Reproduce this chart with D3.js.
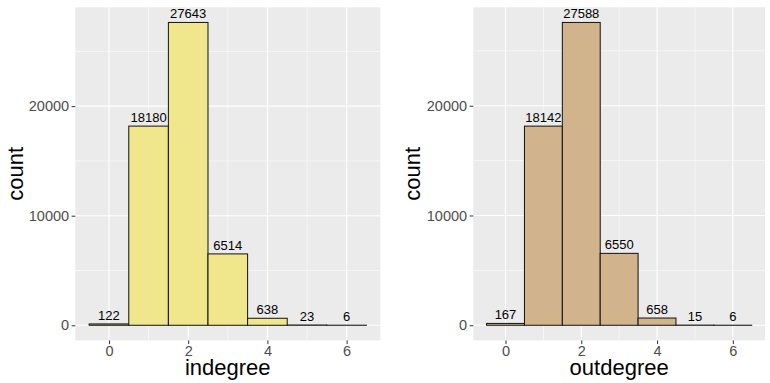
<!DOCTYPE html>
<html>
<head>
<meta charset="utf-8">
<script src="https://cdn.jsdelivr.net/npm/d3@7"></script>
<style>
  body { margin: 0; background: #fff; }
  svg { display: block; font-family: "Liberation Sans", Arial, sans-serif; }
</style>
</head>
<body>
<svg id="chart" width="770" height="383"></svg>
<script>
// degree values (bins) shared by both histograms
const degrees = [0, 1, 2, 3, 4, 5, 6];
const indegreeCounts = [122, 18180, 27643, 6514, 638, 23, 6];
const outdegreeCounts = [167, 18142, 27588, 6550, 658, 15, 6];
const yTicks = [0, 10000, 20000];
const xTicks = [0, 2, 4, 6];

const svg = d3.select('#chart');

const drawPanel = function (opts)
{
  const { left, right, top, bottom, counts, fill, title, axisX } = opts;
  const data = degrees.map((d, i) => ({ degree: d, count: counts[i] }));

  // ggplot style 5% expansion
  const xLo = d3.min(degrees) - 0.5, xHi = d3.max(degrees) + 0.5;
  const xPad = (xHi - xLo) * 0.05;
  const yMax = d3.max(counts);
  const x = d3.scaleLinear().domain([xLo - xPad, xHi + xPad]).range([left, right]);
  const y = d3.scaleLinear().domain([-yMax * 0.05, yMax * 1.05]).range([bottom, top]);

  const g = svg.append('g');

  g.append('rect')
    .attr('x', left).attr('y', top)
    .attr('width', right - left).attr('height', bottom - top)
    .attr('fill', '#EBEBEB');

  // minor grid
  const yMinor = d3.range(5000, yMax * 1.05, 10000);
  const xMinor = [1, 3, 5];
  g.selectAll('.ymin').data(yMinor).join('line')
    .attr('x1', left).attr('x2', right)
    .attr('y1', d => y(d)).attr('y2', d => y(d))
    .attr('stroke', '#fff').attr('stroke-width', 0.55);
  g.selectAll('.xmin').data(xMinor).join('line')
    .attr('y1', top).attr('y2', bottom)
    .attr('x1', d => x(d)).attr('x2', d => x(d))
    .attr('stroke', '#fff').attr('stroke-width', 0.55);

  // major grid
  g.selectAll('.ymaj').data(yTicks).join('line')
    .attr('x1', left).attr('x2', right)
    .attr('y1', d => y(d)).attr('y2', d => y(d))
    .attr('stroke', '#fff').attr('stroke-width', 1.1);
  g.selectAll('.xmaj').data(xTicks).join('line')
    .attr('y1', top).attr('y2', bottom)
    .attr('x1', d => x(d)).attr('x2', d => x(d))
    .attr('stroke', '#fff').attr('stroke-width', 1.1);

  // bars
  g.selectAll('.bar').data(data).join('rect')
    .attr('x', d => x(d.degree - 0.5))
    .attr('width', d => x(d.degree + 0.5) - x(d.degree - 0.5))
    .attr('y', d => y(d.count))
    .attr('height', d => y(0) - y(d.count))
    .attr('fill', fill)
    .attr('stroke', '#111')
    .attr('stroke-width', 1);

  // bar labels
  g.selectAll('.lab').data(data).join('text')
    .attr('x', d => x(d.degree))
    .attr('y', d => y(d.count) - 4)
    .attr('text-anchor', 'middle')
    .attr('font-size', 13)
    .attr('fill', '#000')
    .text(d => d.count);

  // y axis
  const yAxis = d3.axisLeft(y).tickValues(yTicks).tickSize(3.7).tickPadding(2.5).tickFormat(d3.format('d'));
  const ya = g.append('g').attr('transform', `translate(${left},0)`).call(yAxis);
  ya.select('.domain').remove();
  ya.selectAll('line').attr('stroke', '#333');
  ya.selectAll('text').attr('fill', '#4D4D4D').attr('font-size', 14.5)
    .attr('font-family', '"Liberation Sans", Arial, sans-serif');

  // x axis
  const xAxis = d3.axisBottom(x).tickValues(xTicks).tickSize(3.7).tickPadding(1.5);
  const xa = g.append('g').attr('transform', `translate(0,${bottom})`).call(xAxis);
  xa.select('.domain').remove();
  xa.selectAll('line').attr('stroke', '#333');
  xa.selectAll('text').attr('fill', '#4D4D4D').attr('font-size', 14.5)
    .attr('font-family', '"Liberation Sans", Arial, sans-serif');

  // titles
  g.append('text')
    .attr('x', (left + right) / 2).attr('y', 375)
    .attr('text-anchor', 'middle').attr('font-size', 22).attr('fill', '#000')
    .text(title);
  g.append('text')
    .attr('transform', `translate(${axisX},${(top + bottom) / 2}) rotate(-90)`)
    .attr('text-anchor', 'middle').attr('font-size', 22).attr('fill', '#000')
    .text('count');
};

drawPanel({ left: 75.3, right: 380.3, top: 7.3, bottom: 340.4,
  counts: indegreeCounts, fill: '#F0E68C', title: 'indegree', axisX: 23 });
drawPanel({ left: 473.3, right: 765, top: 7.3, bottom: 340.4,
  counts: outdegreeCounts, fill: '#D2B48C', title: 'outdegree', axisX: 420 });
</script>
</body>
</html>
